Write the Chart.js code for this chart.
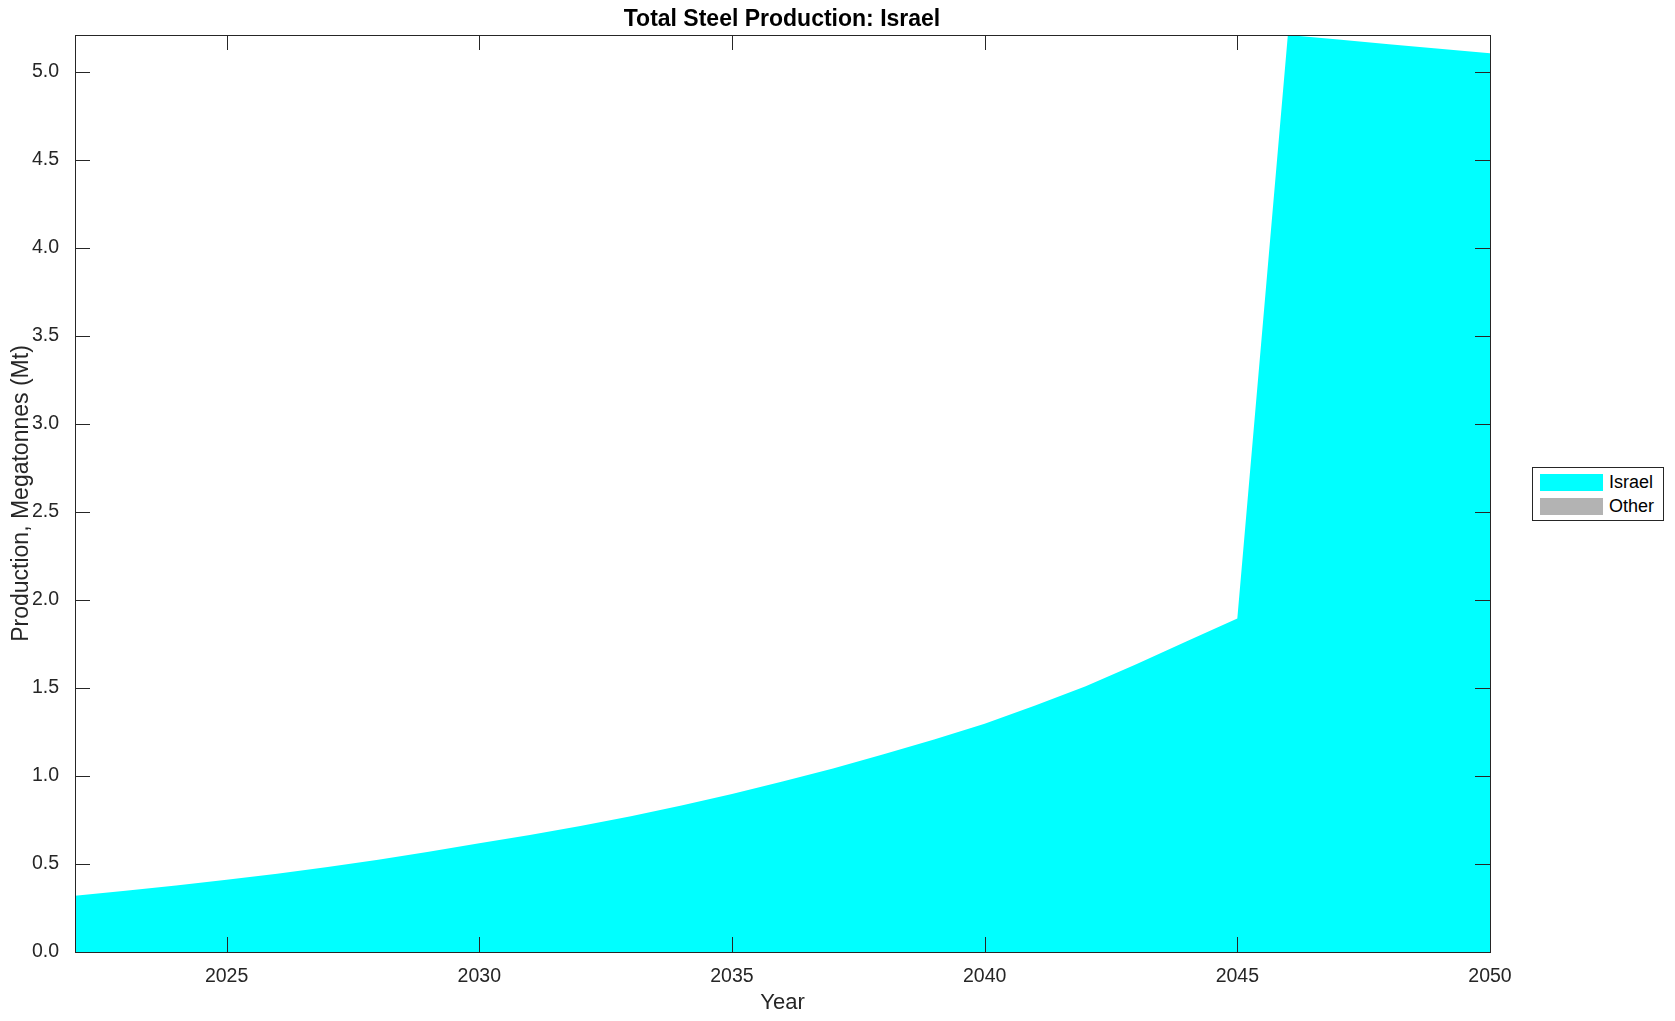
<!DOCTYPE html>
<html>
<head>
<meta charset="utf-8">
<script src="https://cdn.jsdelivr.net/npm/chart.js@4"></script>
<style>
  body { margin: 0; background: #fff; }
  #wrap { position: relative; width: 1675px; height: 1021px; }
  #title {
    position: absolute; left: 582px; width: 400px; top: 5px; text-align: center;
    font-family: "Liberation Sans", Arial, sans-serif; font-size: 23px; font-weight: bold; color: #000;
  }
  #legend {
    position: absolute; left: 1532px; top: 467px; width: 130px; height: 52px;
    border: 1px solid #262626; background: #fff;
    font-family: "Liberation Sans", Arial, sans-serif; font-size: 18px; color: #000;
  }
  .item { position: absolute; left: 7px; height: 17px; line-height: 17px; white-space: nowrap; }
  .swatch { display: inline-block; width: 63px; height: 17px; vertical-align: top; margin-right: 6px; }
</style>
</head>
<body>
<div id="wrap">
  <canvas id="steelChart"></canvas>
  <div id="title">Total Steel Production: Israel</div>
  <div id="legend"></div>
</div>
<script>
// Total steel production, Israel (Mt)
const years = [2022, 2023, 2024, 2025, 2026, 2027, 2028, 2029, 2030, 2031,
  2032, 2033, 2034, 2035, 2036, 2037, 2038, 2039, 2040, 2041,
  2042, 2043, 2044, 2045, 2046, 2047, 2048, 2049, 2050];
const israelValues = [0.32, 0.348, 0.378, 0.41, 0.445, 0.483, 0.524, 0.569, 0.618, 0.665,
  0.716, 0.771, 0.832, 0.898, 0.968, 1.043, 1.123, 1.207, 1.297, 1.40,
  1.51, 1.635, 1.765, 1.895, 5.21, 5.184, 5.158, 5.132, 5.106];
const otherValues = [0, 0, 0, 0, 0, 0, 0, 0, 0, 0,
  0, 0, 0, 0, 0, 0, 0, 0, 0, 0,
  0, 0, 0, 0, 0, 0, 0, 0, 0];
const seriesNames = ['Israel', 'Other'];
const seriesColors = ['#00ffff', '#b3b3b3'];
const xTicks = [2025, 2030, 2035, 2040, 2045, 2050];
const yTicks = [0, 0.5, 1.0, 1.5, 2.0, 2.5, 3.0, 3.5, 4.0, 4.5, 5.0];

const axisColor = '#262626';
const font = '"Liberation Sans", Arial, Helvetica, sans-serif';

// MATLAB-style box with inward ticks on all four sides
const boxTicks = {
  id: 'boxTicks',
  afterDatasetsDraw(chart) {
    const { ctx, chartArea: a, scales: { x, y } } = chart;
    const len = 15;
    ctx.save();
    ctx.strokeStyle = axisColor;
    ctx.lineWidth = 1;
    ctx.beginPath();
    xTicks.forEach(v => {
      const px = Math.round(x.getPixelForValue(v)) + 0.5;
      ctx.moveTo(px, a.bottom); ctx.lineTo(px, a.bottom - len);
      ctx.moveTo(px, a.top); ctx.lineTo(px, a.top + len);
    });
    yTicks.forEach(v => {
      const py = Math.round(y.getPixelForValue(v)) + 0.5;
      ctx.moveTo(a.left, py); ctx.lineTo(a.left + len, py);
      ctx.moveTo(a.right, py); ctx.lineTo(a.right - len, py);
    });
    ctx.stroke();
    ctx.strokeRect(Math.round(a.left) + 0.5, Math.round(a.top) + 0.5,
      Math.round(a.right - a.left), Math.round(a.bottom - a.top));
    ctx.restore();
  }
};

const ctx = document.getElementById('steelChart').getContext('2d');
const steelChart = new Chart(ctx, {
  type: 'line',
  data: {
    datasets: [
      {
        label: seriesNames[0],
        data: years.map((yr, i) => ({ x: yr, y: israelValues[i] })),
        backgroundColor: seriesColors[0],
        borderWidth: 0,
        pointRadius: 0,
        fill: 'origin'
      },
      {
        label: seriesNames[1],
        data: years.map((yr, i) => ({ x: yr, y: otherValues[i] })),
        backgroundColor: seriesColors[1],
        borderWidth: 0,
        pointRadius: 0,
        fill: '-1'
      }
    ]
  },
  options: {
    responsive: true,
    maintainAspectRatio: false,
    animation: false,
    layout: { padding: { left: 0, right: 185, top: 35, bottom: 0 } },
    plugins: {
      legend: { display: false },
      tooltip: { enabled: false },
      title: { display: false }
    },
    scales: {
      x: {
        type: 'linear',
        min: 2022,
        max: 2050,
        grid: { display: false },
        border: { display: false },
        afterBuildTicks: s => { s.ticks = xTicks.map(v => ({ value: v })); },
        afterFit: s => { s.height = 69; },
        ticks: {
          color: axisColor,
          font: { family: font, size: 19.5 },
          padding: 5,
          maxRotation: 0,
          callback: v => String(v)
        },
        title: {
          display: true,
          text: 'Year',
          color: axisColor,
          font: { family: font, size: 22 },
          padding: { top: 0, bottom: 5 }
        }
      },
      y: {
        stacked: true,
        min: 0,
        max: 5.21,
        grid: { display: false },
        border: { display: false },
        afterBuildTicks: s => { s.ticks = yTicks.map(v => ({ value: v })); },
        afterFit: s => { s.width = 75; },
        ticks: {
          color: axisColor,
          font: { family: font, size: 19.5 },
          padding: 8,
          callback: v => v.toFixed(1)
        },
        title: {
          display: true,
          text: 'Production, Megatonnes (Mt)',
          color: axisColor,
          font: { family: font, size: 23 },
          padding: { top: 8, bottom: 0 }
        }
      }
    }
  },
  plugins: [boxTicks]
});

// legend built from the series names/colours
const legend = document.getElementById('legend');
seriesNames.forEach((name, i) => {
  const item = document.createElement('div');
  item.className = 'item';
  item.style.top = (6 + i * 24) + 'px';
  item.innerHTML = '<span class="swatch" style="background:' + seriesColors[i] + '"></span>' + name;
  legend.appendChild(item);
});
</script>
</body>
</html>
